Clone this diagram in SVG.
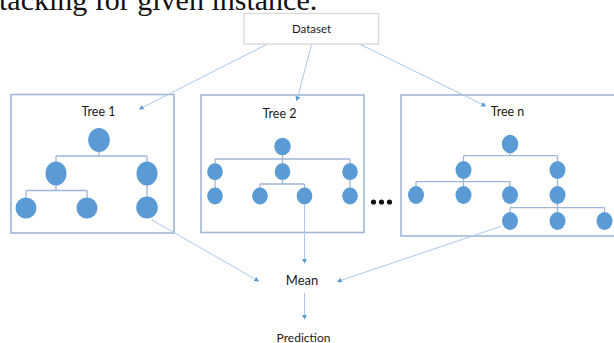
<svg xmlns="http://www.w3.org/2000/svg" width="614" height="343" viewBox="0 0 614 343">
  <style>
    .lbl { font-family: Lato, "Open Sans", "Liberation Sans", sans-serif; fill: #1a1a1a; text-anchor: middle; }
    .frame { fill: #fff; stroke: #9fb6d8; stroke-width: 1.6; }
    .node { fill: #5b9bd5; }
    .branch { fill: none; stroke: #9fb6d8; stroke-width: 1.3; }
    .flow { fill: none; stroke: #a9c8ea; stroke-width: 1; marker-end: url(#tip); }
  </style>
  <defs>
    <marker id="tip" viewBox="0 0 6 6" refX="5" refY="3" markerWidth="5" markerHeight="5" orient="auto" markerUnits="userSpaceOnUse">
      <path d="M0,0 L6,3 L0,6 z" fill="#5b9bd5"/>
    </marker>
  </defs>
  <rect width="614" height="343" fill="#fff"/>

  <!-- heading line, partly above the top edge -->
  <text x="-1" y="10" font-family="'Liberation Serif', 'Times New Roman', serif" font-size="30" fill="#111">tacking for given instance.</text>

  <!-- source -->
  <g id="dataset">
    <rect x="245" y="14.5" width="134.5" height="30.5" fill="#e6e6e6" opacity="0.6"/>
    <rect x="244" y="13.5" width="134.5" height="30.5" fill="#fff" stroke="#d9d9d9" stroke-width="1.3"/>
    <text class="lbl" x="311.5" y="33" font-size="11.5">Dataset</text>
  </g>

  <!-- Tree 1 -->
  <g id="tree1">
    <rect class="frame" x="11" y="94.5" width="163" height="138.5"/>
    <text class="lbl" x="98.5" y="116" font-size="12.5">Tree 1</text>
    <path class="branch" d="M99,152 V156 M56,156 H147 M56,156 V162 M147,156 V162 M56,185 V190.5 M26,190.5 H87 M26,190.5 V198 M87,190.5 V198 M147,185 V197"/>
    <ellipse class="node" cx="99" cy="140" rx="10.8" ry="12"/>
    <ellipse class="node" cx="56" cy="173.5" rx="10.5" ry="12"/>
    <ellipse class="node" cx="147" cy="173.5" rx="10.5" ry="12"/>
    <ellipse class="node" cx="26" cy="208" rx="10.5" ry="10.5"/>
    <ellipse class="node" cx="87" cy="208" rx="10.5" ry="10.5"/>
    <ellipse class="node" cx="147" cy="207.5" rx="10.8" ry="11"/>
  </g>

  <!-- Tree 2 -->
  <g id="tree2">
    <rect class="frame" x="201" y="95" width="163" height="137.5"/>
    <text class="lbl" x="279.5" y="117.5" font-size="12.5">Tree 2</text>
    <path class="branch" d="M282.5,155 V159 M215,159 H350 M215,159 V164 M282.5,159 V164 M350,159 V164 M282.5,180 V184 M260,184 H304.5 M260,184 V188 M304.5,184 V188 M215,180 V188 M350,180 V188"/>
    <ellipse class="node" cx="282.5" cy="146.5" rx="8.2" ry="8.7"/>
    <ellipse class="node" cx="215" cy="171.7" rx="7.8" ry="8.4"/>
    <ellipse class="node" cx="282.5" cy="171.7" rx="7.8" ry="8.4"/>
    <ellipse class="node" cx="350" cy="171.7" rx="7.8" ry="8.4"/>
    <ellipse class="node" cx="215" cy="196" rx="7.8" ry="8.4"/>
    <ellipse class="node" cx="260" cy="196" rx="7.8" ry="8.4"/>
    <ellipse class="node" cx="304.5" cy="196" rx="7.8" ry="8.4"/>
    <ellipse class="node" cx="350" cy="196" rx="7.8" ry="8.4"/>
  </g>

  <!-- omitted trees -->
  <g id="ellipsis" fill="#111">
    <circle cx="373.5" cy="202" r="2.6"/>
    <circle cx="381.5" cy="202" r="2.6"/>
    <circle cx="389.5" cy="202" r="2.6"/>
  </g>

  <!-- Tree n -->
  <g id="treen">
    <rect class="frame" x="401" y="95" width="220" height="141"/>
    <text class="lbl" x="507.5" y="115.5" font-size="12.5">Tree n</text>
    <path class="branch" d="M510,153 V155.7 M463.5,155.7 H557.5 M463.5,155.7 V161 M557.5,155.7 V161 M463.5,179 V181.7 M416,181.7 H510 M416,181.7 V186 M463.5,181.7 V186 M510,181.7 V186 M557.5,179 V186 M557.5,204 V207.7 M510,207.7 H604.5 M510,207.7 V212 M557.5,207.7 V212 M604.5,207.7 V212"/>
    <ellipse class="node" cx="510" cy="144" rx="8.2" ry="9.3"/>
    <ellipse class="node" cx="463.5" cy="170" rx="8" ry="9"/>
    <ellipse class="node" cx="557.5" cy="170" rx="8" ry="9"/>
    <ellipse class="node" cx="416" cy="195" rx="8" ry="9"/>
    <ellipse class="node" cx="463.5" cy="195" rx="8" ry="9"/>
    <ellipse class="node" cx="510" cy="195" rx="8" ry="9"/>
    <ellipse class="node" cx="557.5" cy="195" rx="8" ry="9"/>
    <ellipse class="node" cx="510" cy="221" rx="8" ry="9"/>
    <ellipse class="node" cx="557.5" cy="221" rx="8" ry="9"/>
    <ellipse class="node" cx="604.5" cy="221" rx="8" ry="9"/>
  </g>

  <g id="mean">
    <text class="lbl" x="302" y="284.5" font-size="13">Mean</text>
  </g>

  <g id="prediction">
    <text class="lbl" x="303.5" y="341.5" font-size="12">Prediction</text>
  </g>

  <!-- connectors -->
  <g id="connectors">
    <path class="flow" d="M266.5,44.5 L139.5,109"/>
    <path class="flow" d="M311.5,44.5 L296.8,100.5"/>
    <path class="flow" d="M360.5,44.5 L485.5,106"/>
    <path class="flow" d="M152,220 L258.5,281"/>
    <path class="flow" d="M304.5,205 V263"/>
    <path class="flow" d="M500.5,226.5 L337.5,281.5"/>
    <path class="flow" d="M304.5,293 V319"/>
  </g>
</svg>
